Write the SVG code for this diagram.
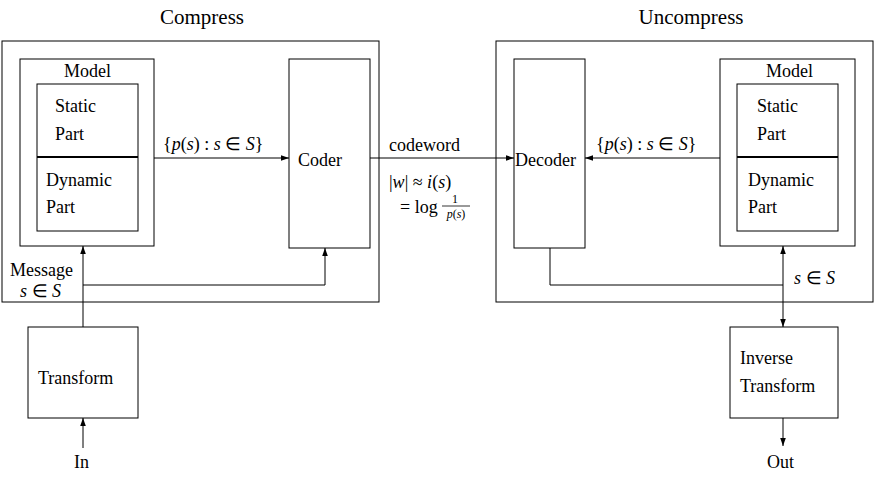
<svg xmlns="http://www.w3.org/2000/svg" width="882" height="488" viewBox="0 0 882 488">
<style>
rect{fill:none;stroke:#000;stroke-width:1}
text{font-family:"Liberation Serif","Times New Roman",serif;font-size:18px;fill:#000}
.t{font-size:21px;text-anchor:middle}
.i{font-style:italic}
.c line,.c path{stroke:#000;stroke-width:1;fill:none}
</style>
<defs><marker id="a" viewBox="0 0 10 10" refX="10" refY="5" markerWidth="8" markerHeight="8" orient="auto"><path d="M0,1.5 L10,5 L0,8.5 z" fill="#000"/></marker></defs>
<text class="t" x="202" y="24">Compress</text>
<text class="t" x="691" y="24">Uncompress</text>
<g id="compress"><rect x="2" y="41" width="377" height="261"/></g>
<g id="model1"><rect x="20" y="59" width="134" height="187"/><text x="64" y="77">Model</text>
<rect x="37" y="84" width="101" height="147"/><line x1="37" y1="157" x2="138" y2="157" stroke="#000" stroke-width="2"/>
<text x="55" y="112">Static</text><text x="55" y="140">Part</text><text x="46" y="186">Dynamic</text><text x="46" y="213">Part</text></g>
<g id="coder"><rect x="289" y="59" width="81" height="189"/><text x="298" y="166">Coder</text></g>
<g id="transform"><rect x="28" y="327" width="110" height="91"/><text x="38" y="384">Transform</text></g>
<g id="uncompress"><rect x="496" y="41" width="377" height="261"/></g>
<g id="decoder"><rect x="514" y="59" width="71" height="189"/><text x="515" y="166">Decoder</text></g>
<g id="model2"><rect x="720" y="59" width="135" height="187"/><text x="766" y="77">Model</text>
<rect x="737" y="84" width="101" height="147"/><line x1="737" y1="157" x2="838" y2="157" stroke="#000" stroke-width="2"/>
<text x="757" y="112">Static</text><text x="757" y="140">Part</text><text x="748" y="186">Dynamic</text><text x="748" y="213">Part</text></g>
<g id="inverse"><rect x="730" y="327" width="108" height="91"/><text x="740" y="364">Inverse</text><text x="740" y="392">Transform</text></g>
<g class="c">
<line x1="154" y1="158" x2="289" y2="158" marker-end="url(#a)"/>
<line x1="370" y1="158" x2="514" y2="158" marker-end="url(#a)"/>
<line x1="720" y1="158" x2="585" y2="158" marker-end="url(#a)"/>
<line x1="83" y1="327" x2="83" y2="246" marker-end="url(#a)"/>
<path d="M83,285 H325 V248" marker-end="url(#a)"/>
<line x1="83" y1="448" x2="83" y2="418" marker-end="url(#a)"/>
<path d="M550,248 V285 H783"/>
<line x1="783" y1="285" x2="783" y2="246" marker-end="url(#a)"/>
<line x1="783" y1="285" x2="783" y2="327" marker-end="url(#a)"/>
<line x1="783" y1="418" x2="783" y2="446" marker-end="url(#a)"/>
</g>
<text x="163" y="150">{<tspan class="i">p</tspan>(<tspan class="i">s</tspan>) : <tspan class="i">s</tspan> ∈ <tspan class="i">S</tspan>}</text>
<text x="596" y="150">{<tspan class="i">p</tspan>(<tspan class="i">s</tspan>) : <tspan class="i">s</tspan> ∈ <tspan class="i">S</tspan>}</text>
<text x="389" y="151">codeword</text>
<text x="389" y="188">|<tspan class="i">w</tspan>| ≈ <tspan class="i">i</tspan>(<tspan class="i">s</tspan>)</text>
<text x="400" y="213">= log</text>
<text x="455" y="203" style="font-size:12px" text-anchor="middle">1</text>
<line x1="442" y1="206" x2="470" y2="206" stroke="#000" stroke-width="0.8"/>
<text x="456" y="218" style="font-size:12px" text-anchor="middle"><tspan class="i">p</tspan>(<tspan class="i">s</tspan>)</text>
<text x="10" y="276">Message</text>
<text x="20" y="297"><tspan class="i">s</tspan> ∈ <tspan class="i">S</tspan></text>
<text x="794" y="284"><tspan class="i">s</tspan> ∈ <tspan class="i">S</tspan></text>
<text x="74" y="468">In</text>
<text x="767" y="468">Out</text>
</svg>
